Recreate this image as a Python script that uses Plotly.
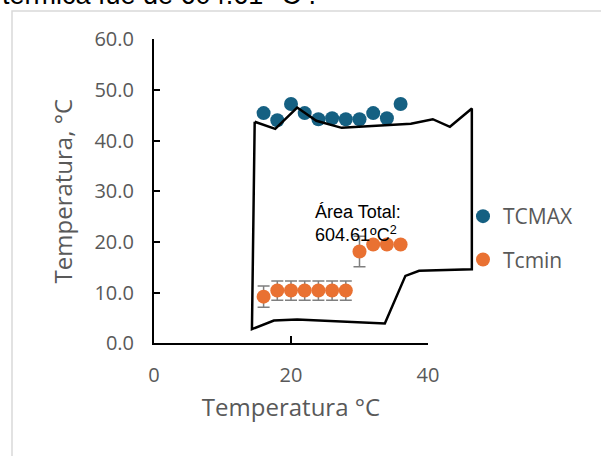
import plotly.graph_objects as go

# Experimental temperatures (°C)
x_pts = [16, 18, 20, 22, 24, 26, 28, 30, 32, 34, 36]
tcmax = [45.4, 44.0, 47.2, 45.4, 44.2, 44.4, 44.2, 44.2, 45.4, 44.4, 47.2]
tcmin = [9.2, 10.4, 10.4, 10.4, 10.4, 10.4, 10.4, 18.1, 19.5, 19.5, 19.5]
tcmin_err = [2.1, 1.9, 1.9, 1.9, 1.9, 1.9, 1.9, 3.0, 0.0, 0.0, 0.0]

# Thermal tolerance polygon: upper (CTmax) and lower (CTmin) envelopes
upper_x = [14.7, 17.7, 20.9, 23.7, 27.4, 37.5, 40.7, 43.2, 46.4]
upper_y = [43.7, 42.3, 46.5, 43.9, 42.5, 43.3, 44.2, 42.7, 46.3]
lower_x = [14.3, 17.5, 20.9, 33.7, 36.7, 38.7, 46.4]
lower_y = [2.8, 4.5, 4.7, 3.9, 13.3, 14.3, 14.6]

poly_x = upper_x + lower_x[::-1] + [upper_x[0]]
poly_y = upper_y + lower_y[::-1] + [upper_y[0]]

W, H = 601, 456
BLUE = "#156082"
ORANGE = "#E97132"
GRAY = "#595959"
FONT = "Open Sans"

def fx(p):
    return p / W

def fy(p):
    return 1 - p / H

x0_px, x40_px = 154, 428
unit = (x40_px - x0_px) / 40.0
y0_px, y60_px = 343.3, 39.1

fig = go.Figure()

fig.add_trace(go.Scatter(
    x=poly_x, y=poly_y, mode="lines", xaxis="x2", yaxis="y",
    line=dict(color="black", width=2.5), showlegend=False, hoverinfo="skip",
))

fig.add_trace(go.Scatter(
    x=x_pts, y=tcmax, mode="markers", name="TCMAX", legendgroup="a",
    marker=dict(color=BLUE, size=14),
))

fig.add_trace(go.Scatter(
    x=x_pts, y=tcmin, mode="markers", name="Tcmin", legendgroup="b",
    marker=dict(color=ORANGE, size=14),
    error_y=dict(type="data", array=tcmin_err, color="#7f7f7f",
                 thickness=1.5, width=6),
))

fig.update_layout(
    width=W, height=H,
    margin=dict(l=0, r=0, t=0, b=0, autoexpand=False),
    paper_bgcolor="white", plot_bgcolor="rgba(0,0,0,0)",
    font=dict(family=FONT, color=GRAY),
    xaxis=dict(
        domain=[fx(x0_px), fx(x40_px)], range=[0, 40],
        tickvals=[0, 20, 40], ticks="inside", ticklen=7, tickwidth=1.5,
        tickcolor="black", showline=True, linecolor="black", linewidth=2,
        showgrid=False, zeroline=False, anchor="y", automargin=False,
        tickfont=dict(size=20, color=GRAY), ticklabelstandoff=13,
        title=dict(text="Temperatura °C", font=dict(size=24, color=GRAY),
                   standoff=12),
    ),
    xaxis2=dict(
        domain=[fx(x0_px), fx(x0_px + 48 * unit)], range=[0, 48],
        visible=False, anchor="y", automargin=False,
    ),
    yaxis=dict(
        domain=[fy(y0_px), fy(y60_px)], range=[0, 60],
        tickvals=[0, 10, 20, 30, 40, 50, 60], tickformat=".1f",
        ticks="inside", ticklen=6, tickwidth=1.5, tickcolor="black",
        showline=True, linecolor="black", linewidth=2,
        showgrid=False, zeroline=False, anchor="x", automargin=False,
        tickfont=dict(size=20, color=GRAY), ticklabelstandoff=14,
        title=dict(text="Temperatura, °C", font=dict(size=24, color=GRAY),
                   standoff=15),
    ),
    legend=dict(
        x=fx(463), y=fy(196), xanchor="left", yanchor="top",
        font=dict(size=21, color=GRAY), bgcolor="rgba(0,0,0,0)",
        traceorder="grouped", tracegroupgap=13,
    ),
    shapes=[
        dict(type="rect", xref="paper", yref="paper",
             x0=fx(12), x1=fx(W + 20), y0=fy(H + 20), y1=fy(11),
             line=dict(color="#d9d9d9", width=1.5), fillcolor="rgba(0,0,0,0)",
             layer="below"),
    ],
    annotations=[
        dict(text="Área Total:<br>604.61ºC<sup>2</sup>", x=fx(313), y=fy(200),
             xref="paper", yref="paper", xanchor="left", yanchor="top",
             align="left", showarrow=False,
             font=dict(family="Liberation Sans", size=18, color="black")),
        dict(text="térmica fue de 604.61 °C .", x=0, y=fy(12),
             xref="paper", yref="paper", xanchor="left", yanchor="bottom",
             showarrow=False,
             font=dict(family="Liberation Sans", size=27, color="black")),
    ],
)

fig.write_html("out.html")
